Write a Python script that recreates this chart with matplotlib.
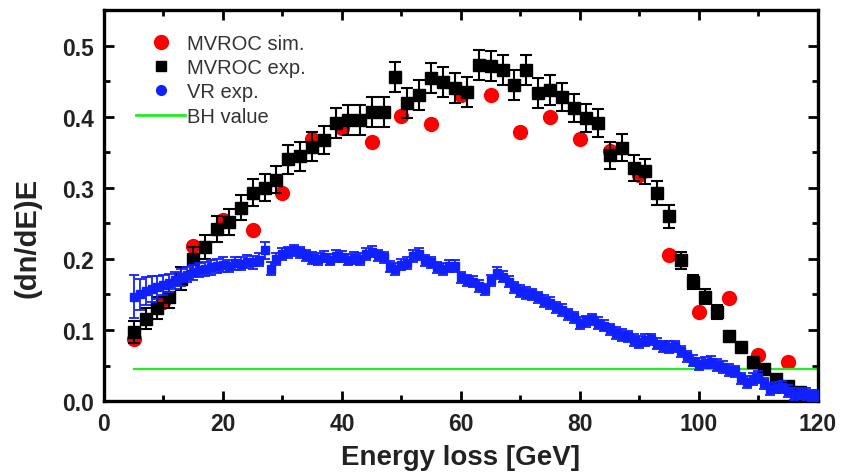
import matplotlib
matplotlib.use("Agg")
import matplotlib.pyplot as plt
from matplotlib.lines import Line2D
from matplotlib.ticker import MultipleLocator, FormatStrFormatter

plt.rcParams['font.family'] = ['Liberation Sans', 'DejaVu Sans']

# MVROC simulation
sim_x = [5, 10, 15, 20, 25, 30, 35, 40, 45, 50, 55, 60, 65, 70, 75, 80, 85, 90, 95, 100, 105, 110, 115]
sim_y = [0.088, 0.139, 0.218, 0.255, 0.241, 0.293, 0.368, 0.384, 0.364, 0.401, 0.389, 0.430, 0.430,
         0.378, 0.399, 0.368, 0.352, 0.318, 0.205, 0.125, 0.145, 0.065, 0.055]

# MVROC experiment
exp_x = [5, 7, 9, 11, 13, 15, 17, 19, 21, 23, 25, 27, 29, 31, 33, 35, 37, 39, 41, 43, 45, 47, 49,
         51, 53, 55, 57, 59, 61, 63, 65, 67, 69, 71, 73, 75, 77, 79, 81, 83, 85, 87, 89, 91, 93, 95,
         97, 99, 101, 103, 105, 107, 109, 111, 113, 115, 117]
exp_y = [0.097, 0.116, 0.131, 0.147, 0.172, 0.200, 0.217, 0.242, 0.252, 0.272, 0.293, 0.300, 0.311,
         0.340, 0.344, 0.358, 0.367, 0.391, 0.395, 0.395, 0.407, 0.407, 0.456, 0.419, 0.430, 0.454,
         0.449, 0.440, 0.435, 0.473, 0.471, 0.466, 0.445, 0.466, 0.433, 0.437, 0.428, 0.412, 0.398,
         0.391, 0.346, 0.356, 0.328, 0.323, 0.293, 0.260, 0.198, 0.168, 0.147, 0.125, 0.091, 0.076,
         0.055, 0.045, 0.031, 0.021, 0.013]
exp_err = [0.015, 0.015, 0.015, 0.016, 0.016, 0.017, 0.017, 0.018, 0.018, 0.018, 0.019, 0.019, 0.019,
           0.020, 0.020, 0.020, 0.020, 0.021, 0.021, 0.021, 0.021, 0.021, 0.021, 0.021, 0.021, 0.021,
           0.021, 0.021, 0.021, 0.021, 0.021, 0.021, 0.021, 0.021, 0.021, 0.021, 0.020, 0.020, 0.020,
           0.020, 0.019, 0.019, 0.018, 0.018, 0.017, 0.016, 0.012, 0.010, 0.010, 0.010, 0.006, 0.006,
           0.005, 0.004, 0.003, 0.003, 0.003]

# VR experiment
vr_x = list(range(5, 121))
vr_y = [0.147, 0.150, 0.155, 0.158, 0.160, 0.163, 0.166, 0.170, 0.174, 0.178, 0.181, 0.184, 0.186,
        0.188, 0.190, 0.192, 0.190, 0.194, 0.193, 0.196, 0.195, 0.199, 0.212, 0.186, 0.200, 0.207,
        0.209, 0.212, 0.209, 0.205, 0.201, 0.200, 0.203, 0.199, 0.204, 0.203, 0.199, 0.201, 0.200,
        0.207, 0.210, 0.205, 0.202, 0.189, 0.186, 0.192, 0.194, 0.204, 0.207, 0.198, 0.195, 0.188,
        0.186, 0.190, 0.190, 0.174, 0.170, 0.168, 0.162, 0.157, 0.170, 0.180, 0.175, 0.168, 0.160,
        0.155, 0.152, 0.150, 0.146, 0.141, 0.138, 0.132, 0.128, 0.122, 0.118, 0.110, 0.112, 0.115,
        0.110, 0.106, 0.101, 0.096, 0.093, 0.091, 0.086, 0.083, 0.086, 0.087, 0.081, 0.077, 0.076,
        0.077, 0.070, 0.063, 0.057, 0.052, 0.054, 0.055, 0.051, 0.048, 0.044, 0.042, 0.032, 0.027,
        0.031, 0.034, 0.025, 0.017, 0.019, 0.020, 0.014, 0.010, 0.011, 0.010, 0.008, 0.008]
vr_err = [0.030, 0.022, 0.020, 0.018, 0.016, 0.014, 0.013, 0.012, 0.012, 0.011, 0.011, 0.010, 0.010,
          0.010, 0.010, 0.010, 0.009, 0.009, 0.009, 0.009, 0.009, 0.009, 0.012, 0.009] + [0.008] * 92

# BH value
bh_x = [5, 120]
bh_y = [0.045, 0.045]

labels = ["MVROC sim.", "MVROC exp.", "VR exp.", "BH value"]

fig = plt.figure(figsize=(8.45, 4.77), dpi=100)
ax = fig.add_axes([0.123, 0.157, 0.845, 0.820])

ax.plot(sim_x, sim_y, 'o', color='#ff0000', ms=11, mec='none', zorder=2)
ax.plot(bh_x, bh_y, '-', color='#22ee22', lw=1.6, zorder=2.5)
ax.errorbar(exp_x, exp_y, yerr=exp_err, fmt='s', color='black', ms=8, ecolor='black',
            elinewidth=1.5, capsize=4.5, capthick=1.5, zorder=3)
ax.errorbar(vr_x, vr_y, yerr=vr_err, fmt='s', color='#1020ff', ms=6, mfc='#1020ff', mec='#1020ff',
            ecolor='#1020ff', elinewidth=1.3, capsize=3.8, capthick=1.3, zorder=4)

ax.set_xlim(0, 120)
ax.set_ylim(0, 0.55)
ax.xaxis.set_major_locator(MultipleLocator(20))
ax.xaxis.set_minor_locator(MultipleLocator(10))
ax.yaxis.set_major_locator(MultipleLocator(0.1))
ax.yaxis.set_minor_locator(MultipleLocator(0.05))
ax.yaxis.set_major_formatter(FormatStrFormatter('%.1f'))
ax.tick_params(which='both', direction='in', top=True, right=True, width=2)
ax.tick_params(which='major', length=7, labelsize=16.5)
ax.tick_params(axis='x', which='major', pad=8)
ax.tick_params(axis='y', which='major', pad=7)
ax.tick_params(which='minor', length=4)
for lab in ax.get_xticklabels() + ax.get_yticklabels():
    lab.set_fontweight('bold')
    lab.set_color('#222222')
for s in ax.spines.values():
    s.set_linewidth(2.4)

ax.set_xlabel("Energy loss [GeV]", fontsize=20, fontweight='bold', color='#222222', labelpad=6)
ax.set_ylabel("(dn/dE)E", fontsize=21, fontweight='bold', color='#222222')
ax.yaxis.set_label_coords(-0.088, 0.42)

handles = [
    Line2D([], [], ls='none', marker='o', color='#ff0000', ms=11, mec='none'),
    Line2D([], [], ls='none', marker='s', color='black', ms=7),
    Line2D([], [], ls='none', marker='o', color='#1020ff', ms=7),
    Line2D([], [], ls='-', color='#22ee22', lw=2),
]
ax.legend(handles, labels, loc='upper left', bbox_to_anchor=(0.02, 0.985), frameon=False,
          fontsize=14.5, handlelength=2.4, handletextpad=0.1, labelspacing=0.26,
          labelcolor='#333333')

fig.savefig("out.png", dpi=100)
